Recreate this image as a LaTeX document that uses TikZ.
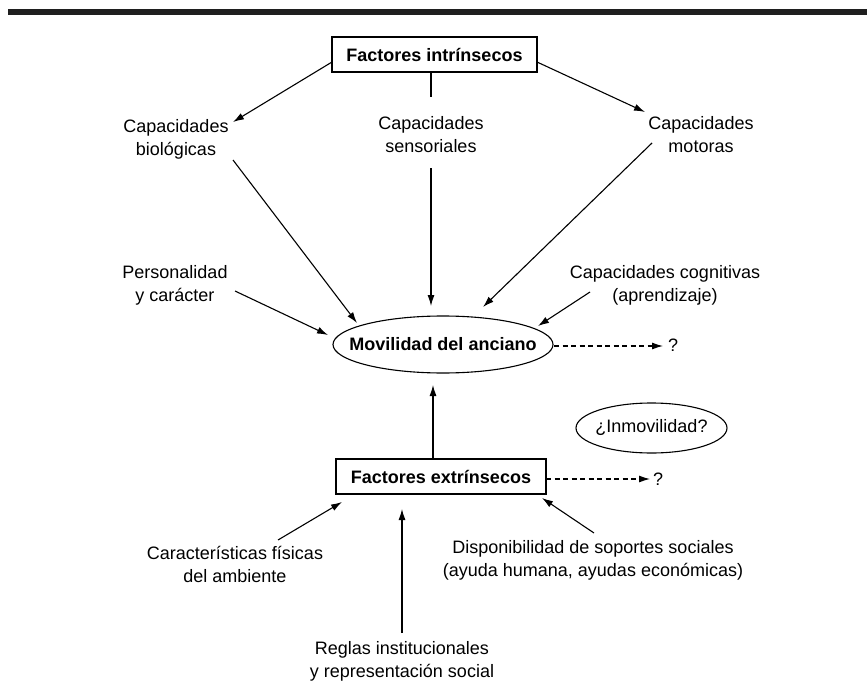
\documentclass[tikz,border=0pt]{standalone}
\usepackage{fontspec}
\setmainfont{Liberation Sans}
\usetikzlibrary{arrows.meta}
\begin{document}
\begin{tikzpicture}[x=1pt,y=-1pt,
  every node/.style={font=\fontsize{18}{23}\selectfont, align=center, inner sep=0pt},
  factorbox/.style={draw, line width=1.1pt, font=\fontsize{18}{23}\selectfont\bfseries},
  oval/.style={draw, line width=1.1pt},
  link/.style={line width=1.1pt},
  arr/.style={link, -{Latex[length=11pt,width=7pt]}},
  darr/.style={arr, dashed, dash pattern=on 5pt off 3.5pt}]
\useasboundingbox (0,0) rectangle (867,682);

% header rule
\fill[black!88] (8,9) rectangle (867,15);

% main nodes
\node[factorbox, minimum width=205pt, minimum height=35pt] (fi) at (434.5,54.5) {Factores intrínsecos};
\node (bio) at (176,139) {Capacidades\\biológicas};
\node (sen) at (431,135) {Capacidades\\sensoriales};
\node (mot) at (701,135) {Capacidades\\motoras};
\node (per) at (175,285) {Personalidad\\y carácter};
\node (cog) at (665,285) {Capacidades cognitivas\\(aprendizaje)};
\node[font=\fontsize{18}{23}\selectfont\bfseries] (mov) at (443,344.5) {Movilidad del anciano};
\draw[oval] (mov.center) ellipse [x radius=110, y radius=28.5];
\node (q1) at (673,345) {?};
\node (inm) at (651.5,428) {¿Inmovilidad?};
\draw[oval] (inm.center) ellipse [x radius=75.5, y radius=25];
\node[factorbox, minimum width=210pt, minimum height=35pt] (fe) at (441,476.5) {Factores extrínsecos};
\node (q2) at (658,479) {?};
\node (car) at (235,564.5) {Características físicas\\del ambiente};
\node (reg) at (402,661) {Reglas institucionales\\y representación social};
\node (dis) at (593,560.5) {Disponibilidad de soportes sociales\\(ayuda humana, ayudas económicas)};

% connector end points
\coordinate (fiL) at (332,62);
\coordinate (bioT) at (233,122);
\coordinate (fiB) at (431,73);
\coordinate (senT) at (431,97);
\coordinate (fiR) at (537,62);
\coordinate (motT) at (645,112);
\coordinate (bioB) at (233,160);
\coordinate (movA) at (357,323);
\coordinate (senB) at (431,168);
\coordinate (movB) at (431,306);
\coordinate (motB) at (652,143);
\coordinate (movC) at (483,307);
\coordinate (perR) at (235,291);
\coordinate (movD) at (328,335);
\coordinate (cogL) at (590,292);
\coordinate (movE) at (538,326);
\coordinate (movR) at (554,346);
\coordinate (q1L) at (663,346);
\coordinate (feT) at (433,459);
\coordinate (movF) at (433,385);
\coordinate (feR) at (546,479);
\coordinate (q2L) at (650,479);
\coordinate (carT) at (278,540);
\coordinate (feA) at (342,502);
\coordinate (regT) at (402,633);
\coordinate (feB) at (402,509);
\coordinate (disT) at (594,533);
\coordinate (feC) at (542,498);

% intrinsic factors
\draw[arr] (fiL) -- (bioT);
\draw[link] (fiB) -- (senT);
\draw[arr] (fiR) -- (motT);
\draw[arr] (bioB) -- (movA);
\draw[arr] (senB) -- (movB);
\draw[arr] (motB) -- (movC);
\draw[arr] (perR) -- (movD);
\draw[arr] (cogL) -- (movE);
\draw[darr] (movR) -- (q1L);

% extrinsic factors
\draw[arr] (feT) -- (movF);
\draw[darr] (feR) -- (q2L);
\draw[arr] (carT) -- (feA);
\draw[arr] (regT) -- (feB);
\draw[arr] (disT) -- (feC);
\end{tikzpicture}
\end{document}
